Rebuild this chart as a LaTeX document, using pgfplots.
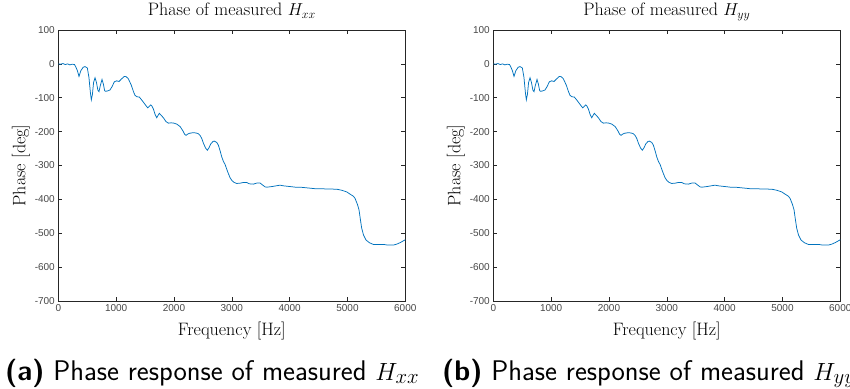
\documentclass[border=0pt]{standalone}
\usepackage{fontspec}
\usepackage{pgfplots}
\usepackage{pgfplotstable}
\pgfplotsset{compat=1.18}
\newfontfamily\tickfont{Liberation Sans}
\definecolor{mblue}{HTML}{0072BD}
\definecolor{maxis}{HTML}{262626}

\pgfplotstableread{
f p
0 0
40 -1
80 1
120 -2
160 0
200 -3
240 -1
280 -2
300 -8
330 -20
358 -37
390 -20
430 -10
462 -8
502 -12
530 -40
555 -85
571 -106
590 -90
610 -55
635 -41
660 -55
685 -78
704 -82
725 -65
756 -46
780 -60
800 -78
813 -81
850 -80
894 -77
930 -67
969 -53
1010 -50
1050 -52
1090 -45
1142 -37
1175 -38
1211 -44
1260 -62
1300 -82
1327 -93
1360 -97
1401 -98
1435 -105
1471 -113
1510 -122
1547 -130
1575 -125
1598 -121
1620 -125
1644 -133
1675 -150
1702 -159
1725 -152
1747 -146
1780 -152
1817 -159
1860 -170
1903 -175
1950 -174
2001 -175
2050 -178
2106 -185
2152 -197
2185 -208
2209 -211
2240 -207
2266 -205
2335 -203
2382 -204
2420 -206
2451 -211
2480 -220
2509 -234
2545 -248
2577 -255
2605 -248
2637 -236
2675 -229
2698 -228
2740 -232
2768 -240
2800 -258
2827 -275
2855 -288
2884 -297
2915 -312
2941 -324
2970 -336
3000 -344
3040 -350
3085 -353
3150 -352
3200 -350
3258 -350
3300 -354
3374 -355
3430 -352
3490 -352
3574 -363
3606 -364
3700 -362
3834 -358
3893 -360
4000 -362
4100 -364
4182 -364
4300 -366
4471 -369
4600 -369
4814 -370
4900 -373
4987 -378
5050 -385
5104 -391
5131 -397
5173 -415
5200 -431
5222 -458
5246 -485
5277 -505
5321 -520
5380 -528
5447 -533
5540 -533
5623 -533
5700 -535
5793 -535
5855 -532
5920 -527
5960 -523
5995 -520
6000 -519
}\phasedata

\pgfplotsset{
  myaxis/.style={
    scale only axis, width=347pt, height=271pt,
    xmin=0, xmax=6000, ymin=-700, ymax=100,
    xtick={0,1000,...,6000},
    xticklabels={0,1000,2000,3000,4000,5000,6000},
    ytick={-700,-600,...,100},
    yticklabels={-700,-600,-500,-400,-300,-200,-100,0,100},
    tick align=inside,
    major tick length=4pt,
    axis line style={maxis, line width=0.6pt},
    every tick/.style={maxis, line width=0.6pt},
    ticklabel style={font=\tickfont\fontsize{10}{12}\selectfont, text=maxis!85},
    title style={font=\fontsize{18}{21}\selectfont, at={(axis description cs:0.5,1.0306)}, anchor=base},
    xlabel style={font=\fontsize{18}{21}\selectfont, at={(axis description cs:0.5,-0.1255)}, anchor=base},
    ylabel style={font=\fontsize{18}{21}\selectfont, at={(axis description cs:-0.095,0.5)}, anchor=base},
    xlabel={Frequency [Hz]},
    ylabel={Phase [deg]},
  }
}

\begin{document}
\begin{tikzpicture}[x=1pt,y=1pt]
\useasboundingbox (0,0) rectangle (850,388);
\clip (0,0) rectangle (850,388);
\begin{axis}[myaxis, at={(58.3pt,87pt)}, anchor=south west,
  title={Phase of measured $H_{xx}$}]
\addplot[mblue, line width=0.75pt] table[x=f,y=p] {\phasedata};
\end{axis}
\begin{axis}[myaxis, at={(493.3pt,87pt)}, anchor=south west,
  title={Phase of measured $H_{yy}$}]
\addplot[mblue, line width=0.75pt] table[x=f,y=p] {\phasedata};
\end{axis}
\node[anchor=base west, inner sep=0pt] at (5,8) {\sffamily\fontsize{28.4}{32}\selectfont\textbf{(a)} Phase response of measured $H_{xx}$};
\node[anchor=base west, inner sep=0pt] at (442,8) {\sffamily\fontsize{28.4}{32}\selectfont\textbf{(b)} Phase response of measured $H_{yy}$};
\end{tikzpicture}
\end{document}
